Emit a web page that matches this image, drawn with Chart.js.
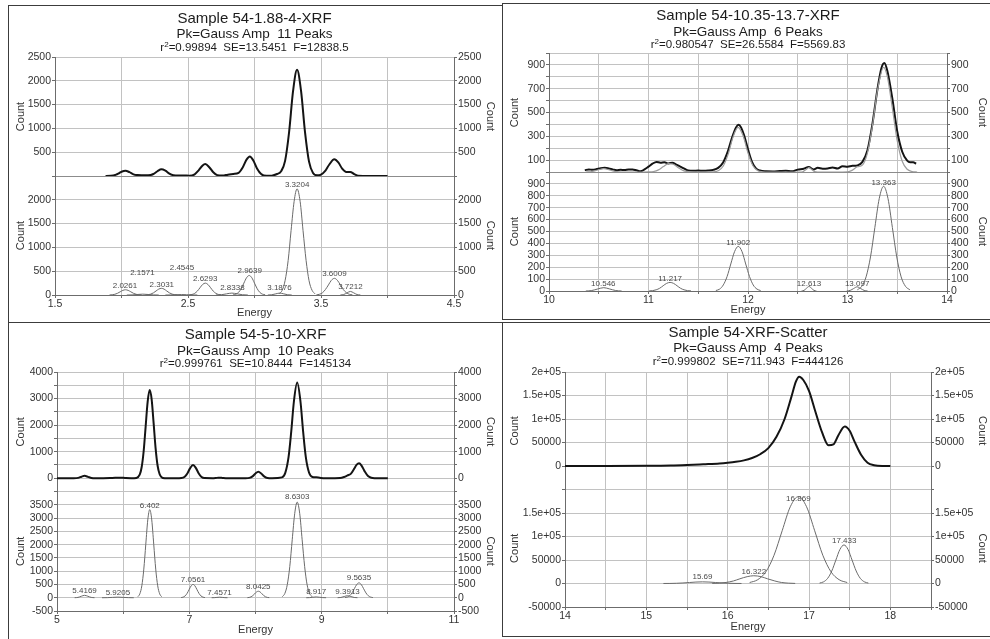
<!DOCTYPE html>
<html>
<head>
<meta charset="utf-8">
<script src="https://cdn.jsdelivr.net/npm/chart.js@4.4.1/dist/chart.umd.min.js"></script>
<style>
  body { margin: 0; background: #fff; width: 990px; height: 639px; overflow: hidden; position: relative;
         font-family: "Liberation Sans", Arial, sans-serif; }
  .panel { position: absolute; box-sizing: border-box; border: 0 solid #3c3c3c; overflow: visible; }
  .panel canvas { position: absolute; left: 0; top: 0; }
  .ttl { position: absolute; left: 0; text-align: center; color: #1c1c1c; white-space: pre; z-index: 2; }
  .t1 { font-size: 15px; line-height: 16px; }
  .t2 { font-size: 13.5px; line-height: 14px; }
  .t3 { font-size: 11.5px; line-height: 13px; }
  sup { font-size: 70%; line-height: 0; vertical-align: 0.45em; }
</style>
</head>
<body>

<div class="panel" style="left:8px;top:5px;width:494px;height:318px;border-width:1px 0 1px 1px">
  <div class="ttl t1" style="top:4px;width:491px">Sample 54-1.88-4-XRF</div>
  <div class="ttl t2" style="top:21px;width:491px">Pk=Gauss Amp  11 Peaks</div>
  <div class="ttl t3" style="top:35px;width:491px">r<sup>2</sup>=0.99894  SE=13.5451  F=12838.5</div>
  <canvas id="c1" width="493" height="316"></canvas>
</div>

<div class="panel" style="left:502px;top:3px;width:492px;height:317px;border-width:1px 0 1px 1px">
  <div class="ttl t1" style="top:3px;width:490px">Sample 54-10.35-13.7-XRF</div>
  <div class="ttl t2" style="top:21px;width:490px">Pk=Gauss Amp  6 Peaks</div>
  <div class="ttl t3" style="top:34px;width:490px">r<sup>2</sup>=0.980547  SE=26.5584  F=5569.83</div>
  <canvas id="c2" width="491" height="315"></canvas>
</div>

<div class="panel" style="left:8px;top:323px;width:494px;height:316px;border-width:0 0 0 1px">
  <div class="ttl t1" style="top:3px;width:493px">Sample 54-5-10-XRF</div>
  <div class="ttl t2" style="top:21px;width:493px">Pk=Gauss Amp  10 Peaks</div>
  <div class="ttl t3" style="top:34px;width:493px">r<sup>2</sup>=0.999761  SE=10.8444  F=145134</div>
  <canvas id="c3" width="493" height="316"></canvas>
</div>

<div class="panel" style="left:502px;top:322px;width:492px;height:315px;border-width:1px 0 1px 1px">
  <div class="ttl t1" style="top:1px;width:490px">Sample 54-XRF-Scatter</div>
  <div class="ttl t2" style="top:18px;width:490px">Pk=Gauss Amp  4 Peaks</div>
  <div class="ttl t3" style="top:32px;width:490px">r<sup>2</sup>=0.999802  SE=711.943  F=444126</div>
  <canvas id="c4" width="491" height="313"></canvas>
</div>

<script>
// ---------- panel 1 : Sample 54-1.88-4-XRF ----------
const p1XTicks = [1.5, 2.5, 3.5, 4.5];
const p1TopTicks = [500, 1000, 1500, 2000, 2500];
const p1BotTicks = [0, 500, 1000, 1500, 2000];
const p1Measured = [
  [1.88,2],[1.92,3],[1.96,28],[1.98,57],[2.00,89],[2.03,110],[2.06,80],[2.09,35],[2.12,19],[2.16,18],
  [2.20,15],[2.24,42],[2.27,100],[2.30,140],[2.33,112],[2.36,51],[2.39,16],[2.43,9],[2.47,10],[2.51,7],
  [2.55,36],[2.58,118],[2.61,223],[2.63,250],[2.66,185],[2.69,78],[2.72,19],[2.76,8],[2.80,28],[2.84,43],
  [2.88,66],[2.91,172],[2.94,343],[2.965,410],[2.99,332],[3.02,154],[3.05,41],[3.09,3],[3.13,6],[3.17,42],
  [3.20,100],[3.23,317],[3.26,919],[3.29,1786],[3.32,2230],[3.35,1786],[3.38,917],[3.41,302],[3.44,64],
  [3.47,14],[3.50,29],[3.53,101],[3.56,231],[3.60,350],[3.63,285],[3.66,152],[3.69,84],[3.72,86],[3.75,40],
  [3.78,5],[3.82,2],[3.90,1],[4.00,1]
];
const p1PeakNames = ['2.0261','2.1571','2.3031','2.4545','2.6293','2.8338','2.9639','3.1876','3.3204','3.6009','3.7212'];
const p1PeakLabelY = [187, 458, 208, 562, 333, 146, 500, 146, 2312, 437, 167];
const p1Peaks = [
  [[1.91,1],[1.93,5],[1.95,15],[1.97,36],[1.99,67],[2.01,97],[2.03,110],[2.05,97],[2.07,67],[2.09,36],[2.11,15],[2.13,5],[2.15,1]],
  [[2.04,0],[2.08,2],[2.12,11],[2.16,18],[2.20,11],[2.24,2],[2.28,0]],
  [[2.18,2],[2.20,6],[2.22,19],[2.24,45],[2.26,85],[2.28,124],[2.30,140],[2.32,124],[2.34,85],[2.36,45],[2.38,19],[2.40,6],[2.42,2]],
  [[2.33,0],[2.37,1],[2.41,6],[2.45,10],[2.49,6],[2.53,1],[2.57,0]],
  [[2.51,3],[2.53,11],[2.55,34],[2.57,81],[2.59,152],[2.61,221],[2.63,250],[2.65,221],[2.67,152],[2.69,81],[2.71,34],[2.73,11],[2.75,3]],
  [[2.71,0],[2.75,5],[2.79,24],[2.83,40],[2.87,24],[2.91,5],[2.95,0]],
  [[2.84,5],[2.86,18],[2.88,55],[2.90,133],[2.92,249],[2.94,362],[2.96,410],[2.98,362],[3.00,249],[3.02,133],[3.04,55],[3.06,18],[3.08,5]],
  [[3.10,0],[3.13,5],[3.16,24],[3.19,40],[3.22,24],[3.25,5],[3.28,0]],
  [[3.185,25],[3.208,98],[3.230,302],[3.253,724],[3.275,1353],[3.298,1968],[3.320,2230],[3.343,1968],[3.365,1353],[3.388,724],[3.410,302],[3.433,98],[3.455,25]],
  [[3.466,4],[3.488,15],[3.511,47],[3.533,114],[3.556,212],[3.578,309],[3.601,350],[3.623,309],[3.646,212],[3.668,114],[3.691,47],[3.713,15],[3.736,4]],
  [[3.646,1],[3.671,10],[3.696,45],[3.721,75],[3.746,45],[3.771,10],[3.796,1]]
];

// ---------- panel 2 : Sample 54-10.35-13.7-XRF ----------
const p2XTicks = [10, 11, 12, 13, 14];
const p2TopTicks = [100, 300, 500, 700, 900];
const p2BotTicks = [0, 100, 200, 300, 400, 500, 600, 700, 800, 900];
const p2Measured = [
  [10.36,15],[10.40,22],[10.44,18],[10.48,25],[10.52,32],[10.56,35],[10.60,30],[10.64,22],[10.68,15],[10.72,18],
  [10.76,16],[10.80,22],[10.84,22],[10.88,14],[10.92,6],[10.96,22],[11.00,45],[11.04,70],[11.08,85],[11.12,78],
  [11.16,82],[11.20,72],[11.24,78],[11.28,62],[11.32,45],[11.36,28],[11.40,12],[11.45,10],[11.50,12],[11.55,10],
  [11.60,12],[11.65,18],[11.70,35],[11.75,80],[11.80,180],[11.84,290],[11.88,375],[11.905,398],[11.93,375],
  [11.96,310],[12.00,190],[12.04,85],[12.08,30],[12.12,12],[12.18,6],[12.25,5],[12.32,8],[12.38,10],[12.44,6],
  [12.50,20],[12.56,28],[12.61,42],[12.66,22],[12.70,35],[12.75,28],[12.80,30],[12.85,38],[12.90,30],[12.95,48],
  [13.00,45],[13.05,52],[13.10,55],[13.15,85],[13.20,180],[13.25,400],[13.30,690],[13.34,870],[13.37,915],
  [13.40,850],[13.45,620],[13.50,340],[13.55,170],[13.60,95],[13.63,82],[13.66,82],[13.69,70]
];
const p2Fit = [
  [10.37,0],[10.43,4],[10.49,17],[10.55,28],[10.61,17],[10.67,4],[10.73,0],[10.95,0],[11.00,1],[11.05,4],
  [11.10,18],[11.15,46],[11.20,70],[11.25,65],[11.30,36],[11.35,12],[11.40,3],[11.50,0],[11.65,1],[11.70,10],
  [11.75,48],[11.80,148],[11.85,295],[11.90,375],[11.95,306],[12.00,160],[12.05,53],[12.10,11],[12.15,2],
  [12.20,0],[12.52,0],[12.55,2],[12.59,25],[12.613,38],[12.64,21],[12.67,3],[12.70,0],[12.95,0],[13.00,1],
  [13.05,16],[13.10,45],[13.15,58],[13.20,158],[13.25,386],[13.30,680],[13.363,880],[13.40,803],[13.45,540],
  [13.50,262],[13.55,90],[13.60,23],[13.65,4],[13.70,0]
];
const p2PeakNames = ['10.546','11.217','11.902','12.613','13.097','13.363'];
const p2PeakLabelY = [58, 100, 408, 62, 62, 912];
const p2Peaks = [
  [[10.37,0],[10.43,4],[10.49,17],[10.55,28],[10.61,17],[10.67,4],[10.73,0]],
  [[11.007,1],[11.042,3],[11.077,10],[11.112,23],[11.147,44],[11.182,64],[11.217,72],[11.252,64],[11.287,44],[11.322,23],[11.357,10],[11.392,3],[11.427,1]],
  [[11.677,4],[11.715,16],[11.752,51],[11.790,122],[11.827,227],[11.865,331],[11.902,375],[11.940,331],[11.977,227],[12.015,122],[12.052,51],[12.090,16],[12.127,4]],
  [[12.538,0],[12.563,5],[12.588,23],[12.613,38],[12.638,23],[12.663,5],[12.688,0]],
  [[12.992,0],[13.027,5],[13.062,21],[13.097,35],[13.132,21],[13.167,5],[13.202,0]],
  [[13.099,10],[13.143,39],[13.187,119],[13.231,286],[13.275,534],[13.319,777],[13.363,880],[13.407,777],[13.451,534],[13.495,286],[13.539,119],[13.583,39],[13.627,10]]
];

// ---------- panel 3 : Sample 54-5-10-XRF ----------
const p3XTicks = [5, 7, 9, 11];
const p3TopTicks = [0, 1000, 2000, 3000, 4000];
const p3BotTicks = [-500, 0, 500, 1000, 1500, 2000, 2500, 3000, 3500];
const p3Measured = [
  [5.00,0],[5.25,1],[5.32,13],[5.37,58],[5.417,90],[5.47,51],[5.52,11],[5.58,1],[5.70,1],[5.80,7],[5.88,19],
  [5.95,20],[6.03,9],[6.12,2],[6.20,12],[6.25,134],[6.28,422],[6.31,1026],[6.34,1954],[6.37,2877],[6.40,3319],
  [6.43,2979],[6.46,2082],[6.49,1135],[6.52,480],[6.55,158],[6.58,40],[6.63,3],[6.80,0],[6.88,7],[6.93,55],
  [6.97,179],[7.01,372],[7.056,500],[7.10,382],[7.14,188],[7.18,59],[7.23,7],[7.35,1],[7.42,13],[7.46,20],
  [7.50,11],[7.58,0],[7.85,0],[7.91,14],[7.96,79],[8.00,181],[8.043,245],[8.09,170],[8.13,70],[8.18,11],
  [8.25,0],[8.40,32],[8.45,202],[8.50,803],[8.54,1753],[8.58,2880],[8.63,3600],[8.68,2880],[8.72,1753],
  [8.76,803],[8.81,205],[8.86,48],[8.92,32],[8.97,17],[9.05,1],[9.20,1],[9.28,7],[9.34,48],[9.39,104],
  [9.44,165],[9.49,351],[9.53,512],[9.565,560],[9.60,486],[9.65,258],[9.70,82],[9.75,16],[9.80,2],[10.00,0]
];
const p3PeakNames = ['5.4169','5.9205','6.402','7.0561','7.4571','8.0425','8.6303','8.917','9.3913','9.5635'];
const p3PeakLabelY = [263, 188, 3460, 677, 188, 414, 3800, 226, 226, 752];
const p3Peaks = [
  [[5.267,1],[5.317,12],[5.367,55],[5.417,90],[5.467,55],[5.517,12],[5.567,1]],
  [[5.68,0],[5.76,3],[5.84,13],[5.92,22],[6.00,13],[6.08,3],[6.16,0]],
  [[6.222,37],[6.252,146],[6.282,449],[6.312,1078],[6.342,2014],[6.372,2930],[6.402,3320],[6.432,2930],[6.462,2014],[6.492,1078],[6.522,449],[6.552,146],[6.582,37]],
  [[6.876,6],[6.906,22],[6.936,68],[6.966,162],[6.996,303],[7.026,441],[7.056,500],[7.086,441],[7.116,303],[7.146,162],[7.176,68],[7.206,22],[7.236,6]],
  [[7.337,0],[7.377,3],[7.417,12],[7.457,20],[7.497,12],[7.537,3],[7.577,0]],
  [[7.878,3],[7.905,11],[7.933,33],[7.960,80],[7.988,149],[8.015,216],[8.043,245],[8.070,216],[8.098,149],[8.125,80],[8.153,33],[8.180,11],[8.208,3]],
  [[8.405,40],[8.443,158],[8.480,487],[8.518,1169],[8.555,2183],[8.593,3177],[8.630,3600],[8.668,3177],[8.705,2183],[8.743,1169],[8.780,487],[8.818,158],[8.855,40]],
  [[8.767,0],[8.817,4],[8.867,18],[8.917,30],[8.967,18],[9.017,4],[9.067,0]],
  [[9.241,1],[9.291,10],[9.341,45],[9.391,75],[9.441,45],[9.491,10],[9.541,1]],
  [[9.354,6],[9.389,25],[9.424,76],[9.459,182],[9.494,340],[9.529,494],[9.564,560],[9.599,494],[9.634,340],[9.669,182],[9.704,76],[9.739,25],[9.774,6]]
];

// ---------- panel 4 : Sample 54-XRF-Scatter ----------
const p4XTicks = [14, 15, 16, 17, 18];
const p4TopTicks = [0, 50000, 100000, 150000, 200000];
const p4BotTicks = [-50000, 0, 50000, 100000, 150000];
const p4Measured = [
  [14.00,0],[14.50,0],[15.00,300],[15.30,1000],[15.50,2200],[15.70,3800],[15.90,5500],[16.00,7000],[16.10,9000],
  [16.20,12000],[16.30,17000],[16.40,25000],[16.50,38000],[16.60,62000],[16.70,100000],[16.78,145000],
  [16.84,180000],[16.88,190000],[16.93,183000],[17.00,160000],[17.08,115000],[17.16,72000],[17.24,44000],
  [17.30,46000],[17.36,65000],[17.44,84000],[17.50,75000],[17.56,52000],[17.64,24000],[17.72,7000],
  [17.80,1500],[17.90,0],[18.00,0]
];
const p4PeakNames = ['15.69','16.322','16.869','17.433'];
const p4PeakLabelY = [14600, 25000, 181000, 91700];
const p4Peaks = [
  [[15.21,40],[15.29,150],[15.37,470],[15.45,1140],[15.53,2120],[15.61,3090],[15.69,3500],[15.77,3090],[15.85,2120],[15.93,1140],[16.01,470],[16.09,150],[16.17,40]],
  [[15.81,180],[15.90,720],[15.98,2230],[16.07,5360],[16.15,10000],[16.24,14560],[16.32,16500],[16.41,14560],[16.49,10000],[16.58,5360],[16.66,2230],[16.75,720],[16.83,180]],
  [[16.27,2050],[16.37,8120],[16.47,25000],[16.57,60070],[16.67,112200],[16.77,163300],[16.87,185000],[16.97,163300],[17.07,112200],[17.17,60070],[17.27,25000],[17.37,8120],[17.47,2050]],
  [[17.13,910],[17.18,3600],[17.23,11100],[17.28,26600],[17.33,49700],[17.38,72400],[17.43,82000],[17.48,72400],[17.53,49700],[17.58,26600],[17.63,11100],[17.68,3600],[17.73,910]]
];

// ---------- drawing ----------
const FONT = '"Liberation Sans", Arial, sans-serif';
const GRID = '#c2c2c2';
const AXIS = '#6c6c6c';
const TEXT = '#333333';

const near = (list, v) => list.some(t => Math.abs(t - v) < 1e-6);
const plain = v => String(v);
const sci = v => Math.abs(v) >= 100000 ? v.toExponential().replace(/e\+(\d)$/, 'e+0$1') : String(v);

// text of each fitted peak written just above its apex
const peakLabels = {
  id: 'peakLabels',
  afterDatasetsDraw(chart, args, opts) {
    const {ctx, scales} = chart;
    ctx.save();
    ctx.font = '8px ' + FONT;
    ctx.fillStyle = '#4a4a4a';
    ctx.textAlign = 'center';
    ctx.textBaseline = 'middle';
    opts.names.forEach((t, i) => {
      ctx.fillText(t, scales.x.getPixelForValue(Number(t)), scales.yBot.getPixelForValue(opts.ys[i]));
    });
    ctx.restore();
  }
};

function yAxis(p, labels, pos, stack, edge) {
  return {
    type: 'linear', position: pos, stack: stack, stackWeight: 1,
    min: p.yMin, max: p.yMax,
    ticks: {
      stepSize: p.yStep, autoSkip: false, padding: 1, color: TEXT,
      font: { family: FONT, size: 10.5 },
      callback: v => near(labels, v) ? p.fmt(v) : ''
    },
    grid: {
      drawOnChartArea: pos === 'left', tickLength: 3, tickColor: AXIS,
      color: c => (c.tick && Math.abs(c.tick.value - edge) < 1e-6) ? p.sepColor : GRID
    },
    border: { color: AXIS },
    title: { display: true, text: 'Count', color: TEXT, font: { family: FONT, size: 11 }, padding: { top: 5, bottom: 0 } },
    afterFit: s => { s.width = pos === 'left' ? p.leftW : p.rightW; }
  };
}

function drawPanel(id, p) {
  const datasets = [];
  if (p.fit) datasets.push({ data: p.fit, yAxisID: 'yTop', borderColor: '#9c9c9c', borderWidth: 1.2 });
  datasets.push({ data: p.measured, yAxisID: 'yTop', borderColor: '#141414', borderWidth: 2 });
  p.peaks.forEach(pk => datasets.push({ data: pk, yAxisID: 'yBot', borderColor: '#6a6a6a', borderWidth: 1 }));
  datasets.forEach(d => Object.assign(d, { xAxisID: 'x', pointRadius: 0, fill: false, cubicInterpolationMode: 'monotone' }));

  new Chart(document.getElementById(id), {
    type: 'line',
    data: { datasets },
    plugins: [peakLabels],
    options: {
      responsive: false, animation: false, devicePixelRatio: 1,
      layout: { padding: { top: p.top, left: 0, right: 0, bottom: 0 } },
      plugins: {
        legend: { display: false }, tooltip: { enabled: false },
        peakLabels: { names: p.names, ys: p.labelY }
      },
      scales: {
        x: {
          type: 'linear', position: 'bottom', min: p.xMin, max: p.xMax,
          ticks: {
            stepSize: p.xStep, autoSkip: false, maxRotation: 0, padding: 0, color: TEXT,
            font: { family: FONT, size: 10.5 },
            callback: v => near(p.xLabels, v) ? String(v) : ''
          },
          grid: { color: GRID, tickLength: 3, tickColor: AXIS },
          border: { color: AXIS },
          title: { display: true, text: 'Energy', color: TEXT, font: { family: FONT, size: 11 }, padding: { top: 0, bottom: 2 } },
          afterFit: s => { s.height = p.xH; }
        },
        yBot: yAxis(p, p.botTicks, 'left', 'L', p.yMax),
        yTop: yAxis(p, p.topTicks, 'left', 'L', p.yMin),
        yTopR: yAxis(p, p.topTicks, 'right', 'R', p.yMin),
        yBotR: yAxis(p, p.botTicks, 'right', 'R', p.yMax)
      }
    }
  });
}

drawPanel('c1', {
  top: 51, leftW: 46, rightW: 48, xH: 27,
  xMin: 1.5, xMax: 4.5, xStep: 0.5, xLabels: p1XTicks,
  yMin: 0, yMax: 2500, yStep: 500, topTicks: p1TopTicks, botTicks: p1BotTicks,
  fmt: plain, sepColor: '#8c8c8c',
  measured: p1Measured, fit: null, peaks: p1Peaks, names: p1PeakNames, labelY: p1PeakLabelY
});

drawPanel('c2', {
  top: 49, leftW: 46, rightW: 47, xH: 28,
  xMin: 10, xMax: 14, xStep: 0.5, xLabels: p2XTicks,
  yMin: 0, yMax: 1000, yStep: 100, topTicks: p2TopTicks, botTicks: p2BotTicks,
  fmt: plain, sepColor: '#8c8c8c',
  measured: p2Measured, fit: p2Fit, peaks: p2Peaks, names: p2PeakNames, labelY: p2PeakLabelY
});

drawPanel('c3', {
  top: 49, leftW: 48, rightW: 48, xH: 28,
  xMin: 5, xMax: 11, xStep: 1, xLabels: p3XTicks,
  yMin: -500, yMax: 4000, yStep: 500, topTicks: p3TopTicks, botTicks: p3BotTicks,
  fmt: plain, sepColor: GRID,
  measured: p3Measured, fit: null, peaks: p3Peaks, names: p3PeakNames, labelY: p3PeakLabelY
});

drawPanel('c4', {
  top: 49, leftW: 62, rightW: 63, xH: 29,
  xMin: 14, xMax: 18.5, xStep: 0.5, xLabels: p4XTicks,
  yMin: -50000, yMax: 200000, yStep: 50000, topTicks: p4TopTicks, botTicks: p4BotTicks,
  fmt: sci, sepColor: GRID,
  measured: p4Measured, fit: null, peaks: p4Peaks, names: p4PeakNames, labelY: p4PeakLabelY
});
</script>
</body>
</html>
